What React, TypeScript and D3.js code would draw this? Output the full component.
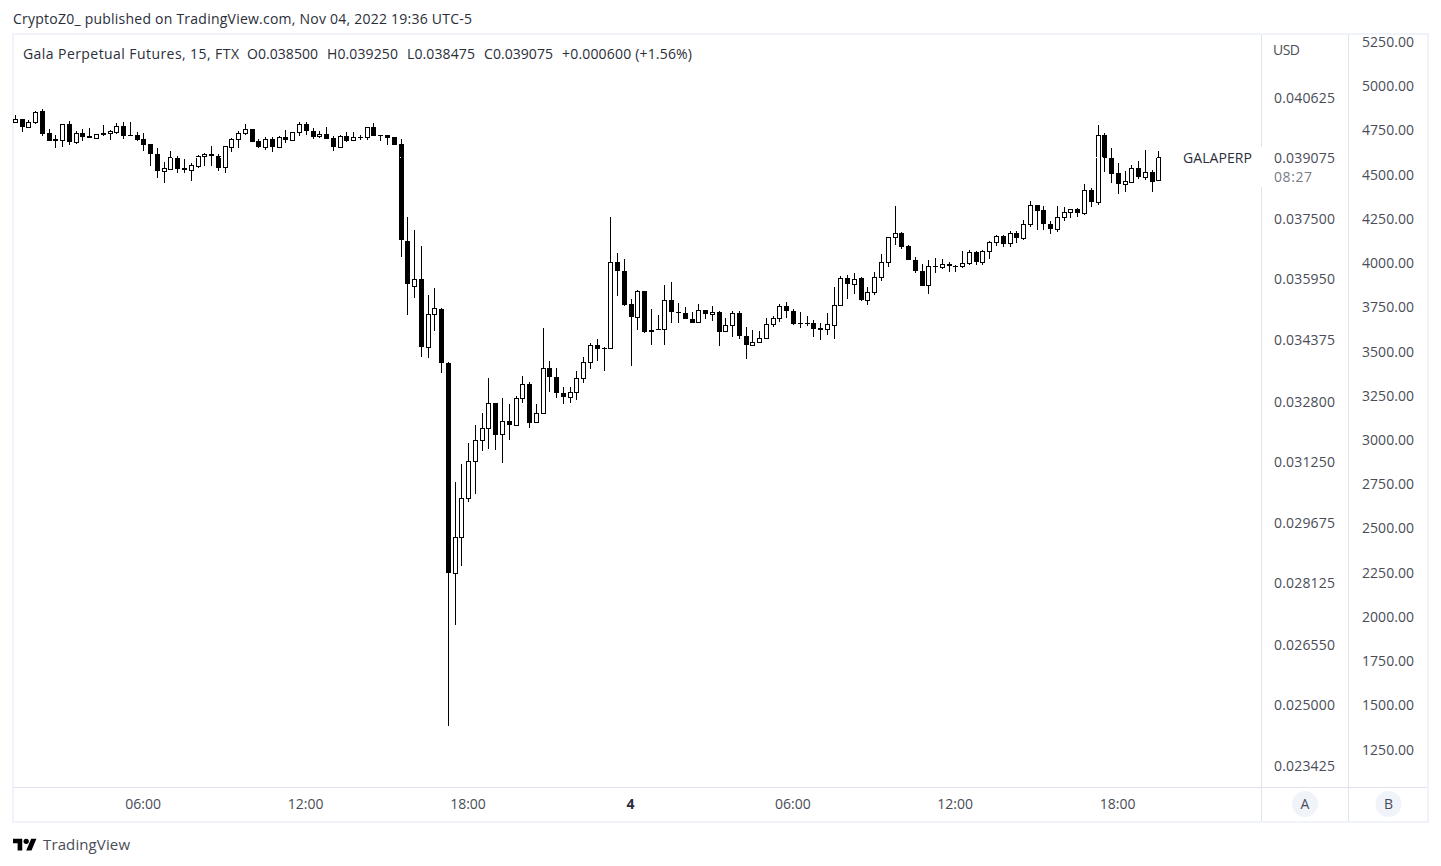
import React from "react";
import * as d3 from "d3";

// Prices in instrument ticks (0.000025 USD per tick).
const TICK_SIZE = 0.000025;

const opens = [
  1599,1602,1594,1599,1611,1588,1582,1581,1597,1579,
  1588,1585,1583,1588,1588,1589,1595,1586,1586,1582,
  1577,1567,1549,1551,1562,1552,1550,1554,1564,1566,
  1564,1553,1574,1582,1588,1592,1580,1574,1582,1574,
  1584,1581,1589,1597,1590,1585,1587,1583,1574,1585,
  1581,1584,1584,1594,1586,1586,1584,1577,1477,1431,
  1438,1368,1402,1407,1352,1137,1173,1213,1251,1273,
  1285,1311,1279,1293,1288,1316,1330,1291,1301,1347,
  1338,1321,1317,1322,1337,1353,1370,1367,1367,1456,
  1446,1413,1399,1426,1386,1387,1387,1417,1404,1403,
  1397,1394,1406,1402,1404,1385,1391,1403,1380,1370,
  1374,1378,1392,1398,1411,1405,1393,1393,1393,1388,
  1387,1391,1412,1439,1433,1439,1417,1425,1440,1456,
  1481,1485,1472,1458,1446,1432,1452,1451,1454,1452,
  1452,1455,1466,1456,1467,1476,1482,1475,1485,1480,
  1495,1514,1509,1495,1490,1502,1507,1510,1506,1530,
  1517,1586,1562,1547,1536,1538,1552,1543,1548,1540,
];
const closes = [
  1602,1594,1599,1610,1587,1580,1580,1597,1579,1588,
  1584,1583,1587,1586,1590,1595,1585,1585,1581,1576,
  1566,1549,1552,1563,1551,1550,1555,1564,1566,1564,
  1552,1575,1582,1588,1592,1579,1574,1582,1574,1584,
  1581,1589,1597,1590,1584,1587,1582,1574,1585,1580,
  1584,1583,1594,1585,1585,1583,1576,1478,1433,1438,
  1368,1402,1408,1352,1137,1173,1213,1251,1273,1285,
  1311,1278,1293,1288,1316,1330,1290,1301,1347,1338,
  1321,1317,1322,1337,1353,1370,1366,1366,1456,1446,
  1412,1399,1426,1384,1384,1386,1417,1404,1403,1397,
  1393,1406,1402,1404,1384,1391,1403,1380,1370,1374,
  1378,1392,1398,1411,1405,1392,1392,1392,1387,1386,
  1392,1412,1439,1433,1438,1417,1425,1440,1456,1481,
  1485,1471,1458,1446,1431,1452,1451,1454,1452,1451,
  1455,1466,1456,1467,1476,1482,1474,1485,1480,1495,
  1514,1508,1495,1490,1502,1507,1510,1506,1530,1517,
  1586,1562,1546,1536,1539,1552,1543,1548,1538,1563,
];
const highs = [
  1607,1602,1601,1611,1613,1592,1586,1597,1600,1590,
  1592,1593,1587,1596,1591,1598,1599,1599,1589,1588,
  1577,1573,1558,1570,1564,1561,1557,1565,1568,1575,
  1566,1575,1583,1590,1597,1592,1582,1584,1584,1585,
  1591,1589,1599,1599,1593,1590,1594,1585,1586,1589,
  1589,1586,1594,1598,1586,1586,1584,1582,1502,1489,
  1472,1422,1429,1408,1353,1230,1248,1270,1288,1301,
  1337,1311,1316,1310,1318,1339,1333,1310,1388,1354,
  1347,1327,1327,1344,1358,1373,1377,1368,1502,1465,
  1459,1418,1427,1426,1407,1401,1432,1435,1414,1410,
  1404,1413,1406,1411,1405,1398,1405,1405,1389,1386,
  1385,1398,1400,1413,1415,1407,1404,1400,1396,1393,
  1403,1430,1441,1442,1444,1440,1430,1445,1464,1481,
  1513,1486,1473,1461,1454,1458,1460,1459,1456,1453,
  1467,1468,1467,1468,1477,1483,1483,1488,1487,1499,
  1518,1514,1513,1498,1513,1512,1510,1511,1536,1532,
  1596,1588,1573,1557,1549,1555,1559,1571,1550,1570,
];
const lows = [
  1598,1589,1594,1597,1585,1580,1573,1574,1576,1577,
  1580,1583,1582,1585,1581,1587,1582,1585,1580,1570,
  1554,1542,1537,1550,1547,1547,1539,1552,1554,1554,
  1549,1547,1569,1573,1586,1579,1573,1571,1569,1574,
  1578,1580,1585,1586,1582,1583,1582,1570,1574,1579,
  1581,1581,1581,1585,1580,1576,1576,1461,1401,1419,
  1358,1357,1385,1342,980,1083,1144,1209,1218,1262,
  1264,1263,1249,1273,1288,1311,1285,1291,1301,1322,
  1316,1310,1311,1314,1332,1346,1354,1344,1366,1421,
  1411,1349,1386,1383,1371,1386,1371,1393,1393,1397,
  1393,1394,1397,1395,1369,1385,1379,1377,1356,1370,
  1374,1378,1389,1394,1398,1391,1388,1390,1379,1376,
  1381,1377,1412,1418,1423,1416,1412,1422,1436,1451,
  1473,1469,1458,1444,1431,1423,1444,1449,1445,1445,
  1450,1453,1453,1453,1459,1472,1471,1471,1475,1478,
  1492,1489,1489,1484,1486,1498,1501,1502,1504,1512,
  1514,1548,1537,1525,1528,1538,1541,1540,1527,1539,
];

const priceTicks = ["0.040625","0.037500","0.035950","0.034375","0.032800","0.031250","0.029675","0.028125","0.026550","0.025000","0.023425"];
const compareTicks = [5250,5000,4750,4500,4250,4000,3750,3500,3250,3000,2750,2500,2250,2000,1750,1500,1250];
const timeLabels = ["06:00","12:00","18:00","4","06:00","12:00","18:00"];
const timeBars = [19,43,67,91,115,139,163];
const lastClose = 0.039075;
const legendParts = [
  { x: 23, w: 216, t: "Gala Perpetual Futures, 15, FTX" },
  { x: 247, w: 71, t: "O0.038500" },
  { x: 327, w: 71, t: "H0.039250" },
  { x: 407, w: 68, t: "L0.038475" },
  { x: 484, w: 69, t: "C0.039075" },
  { x: 562, w: 130, t: "+0.000600 (+1.56%)" },
];

const FONT = "'Open Sans', 'Noto Sans', sans-serif";
const INK = "#2a2e39";
const AXIS_INK = "#4a4d57";
const INNER = "#e0e3eb";
const OUTER = "#f0f3fa";

const x = d3.scaleLinear().domain([0, 169]).range([15.3, 15.3 + 169 * 6.767]);
const y = d3.scaleLinear().domain([1625 * TICK_SIZE, 980 * TICK_SIZE]).range([97, 97 + 645 * 0.97447]);
const priceLabelY = d3.scaleLinear().domain([0.040625, 0.023425]).range([97.5, 766]);
const compareY = d3.scaleLinear().domain([5250, 1250]).range([42, 749.5]);

function Candle({ i }: { i: number }) {
  const o = opens[i] * TICK_SIZE;
  const c = closes[i] * TICK_SIZE;
  const up = closes[i] >= opens[i];
  const px = Math.floor(x(i));
  const top = Math.round(y(Math.max(o, c)));
  const bot = Math.max(Math.round(y(Math.min(o, c))), top + 1);
  const hi = Math.round(y(highs[i] * TICK_SIZE));
  const lo = Math.round(y(lows[i] * TICK_SIZE));
  return (
    <g>
      <rect x={px} y={hi} width={1} height={Math.max(lo - hi, 1)} fill="#000" />
      <rect x={px - 2} y={top} width={5} height={bot - top + (up ? 1 : 0)} fill="#000" />
      {up && bot - top >= 2 && (
        <rect x={px - 1} y={top + 1} width={3} height={bot - top - 1} fill="#fff" />
      )}
    </g>
  );
}

export default function App() {
  const lastY = Math.floor(y(lastClose)) + 0.5;
  return (
    <svg
      width={1441}
      height={866}
      style={{ position: "absolute", left: 0, top: 0, display: "block", background: "#fff" }}
      shapeRendering="crispEdges"
      fontFamily={FONT}
    >
      <rect x={0} y={0} width={1441} height={866} fill="#fff" />
      <text x={13} y={24} fontSize={14} fill={INK} textLength={459} lengthAdjust="spacing">
        CryptoZ0_ published on TradingView.com, Nov 04, 2022 19:36 UTC-5
      </text>

      {/* frame */}
      <rect x={13} y={34} width={1415} height={788} fill="none" stroke={OUTER} strokeWidth={2} />
      <line x1={1261.5} x2={1261.5} y1={35} y2={147} stroke={INNER} />
      <line x1={1261.5} x2={1261.5} y1={187} y2={821} stroke={INNER} />
      <line x1={1348.5} x2={1348.5} y1={35} y2={821} stroke={INNER} />
      <line x1={14} x2={1427} y1={787.5} y2={787.5} stroke={INNER} />

      {/* candles */}
      {opens.map((_, i) => (
        <Candle key={i} i={i} />
      ))}
      <line x1={16} x2={1261} y1={lastY} y2={lastY} stroke="#fff" strokeDasharray="1 5" />

      {/* legend */}
      {legendParts.map((p) => (
        <text key={p.t} x={p.x} y={59} fontSize={14} fill={INK} textLength={p.w} lengthAdjust="spacing">
          {p.t}
        </text>
      ))}

      {/* price scale A */}
      <text x={1273} y={55} fontSize={14} fill={AXIS_INK} textLength={27} lengthAdjust="spacing">USD</text>
      {priceTicks.map((t) => (
        <text key={t} x={1274} y={priceLabelY(+t) + 5} fontSize={14} fill={AXIS_INK} textLength={61} lengthAdjust="spacing">
          {t}
        </text>
      ))}
      <text x={1183} y={163} fontSize={14} fill={INK} textLength={69} lengthAdjust="spacing">GALAPERP</text>
      <text x={1274} y={163} fontSize={14} fill={AXIS_INK} textLength={61} lengthAdjust="spacing">0.039075</text>
      <text x={1274} y={182} fontSize={14} fill="#787b86" textLength={38} lengthAdjust="spacing">08:27</text>

      {/* compare scale B */}
      {compareTicks.map((t) => (
        <text key={t} x={1362} y={compareY(t) + 5} fontSize={14} fill={AXIS_INK} textLength={52} lengthAdjust="spacing">
          {t.toFixed(2)}
        </text>
      ))}

      {/* time axis */}
      {timeLabels.map((t, i) => (
        <text
          key={i}
          x={x(timeBars[i]) - 0.7}
          y={809}
          fontSize={14}
          textAnchor="middle"
          fontWeight={t === "4" ? 700 : 400}
          fill={t === "4" ? INK : AXIS_INK}
        >
          {t}
        </text>
      ))}

      {/* scale badges */}
      <g shapeRendering="geometricPrecision">
        <circle cx={1305} cy={804} r={13} fill={OUTER} />
        <circle cx={1388.5} cy={804} r={13} fill={OUTER} />
        <text x={1305} y={809} fontSize={14} textAnchor="middle" fill={AXIS_INK}>A</text>
        <text x={1388.5} y={809} fontSize={14} textAnchor="middle" fill={AXIS_INK}>B</text>
        <g transform="translate(13,836) scale(0.66)" fill="#000">
          <path d="M14 22H7V11H0V4h14v18zM28 22h-8l7.5-18h8L28 22z" />
          <circle cx={20} cy={8} r={4} />
        </g>
      </g>
      <text x={43} y={850} fontSize={15} fill={AXIS_INK} textLength={87} lengthAdjust="spacing">TradingView</text>
    </svg>
  );
}
